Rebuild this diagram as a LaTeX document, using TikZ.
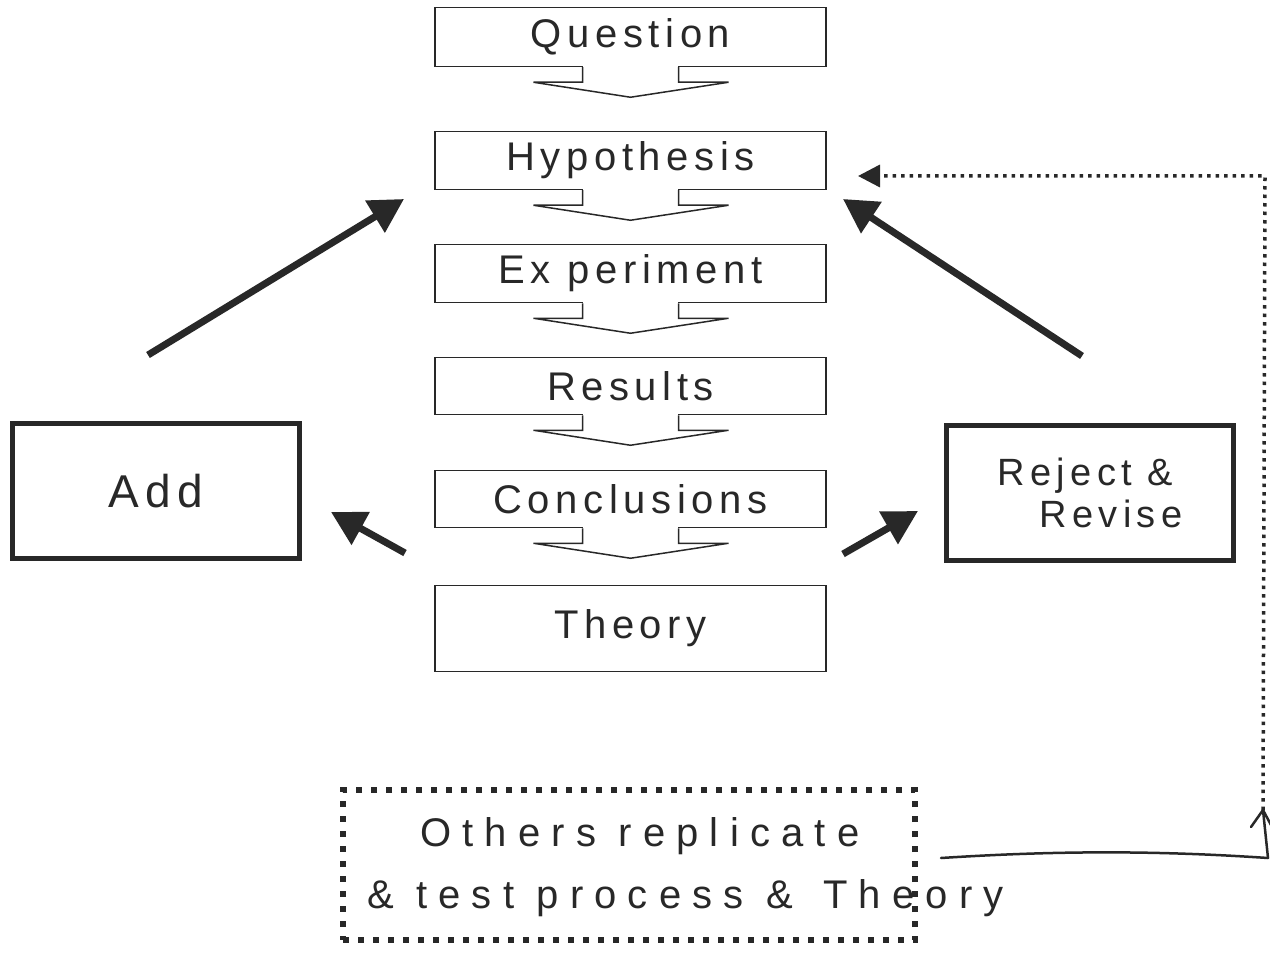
\documentclass[tikz,border=0pt]{standalone}
\usepackage{fontspec}
\newfontfamily\hand[LetterSpace=14]{Liberation Sans}
\newfontfamily\handwide[LetterSpace=28]{Liberation Sans}
\usetikzlibrary{arrows.meta,calc}
\definecolor{ink}{RGB}{40,40,40}
\begin{document}
\begin{tikzpicture}[x=1pt,y=-1pt,
  flow/.style={draw=ink, line width=1.5pt, minimum width=391pt, fill=white, inner sep=0pt,
    font=\hand\fontsize{40}{44}\selectfont, text=ink},
  side/.style={draw=ink, line width=5pt, minimum width=287pt, minimum height=135pt, inner sep=0pt,
    font=\hand\fontsize{38}{44}\selectfont, text=ink},
  bigarrow/.style={draw=ink, line width=7pt, -{Triangle[length=34pt,width=36pt]}},
  dotline/.style={draw=ink, line width=3.5pt, dash pattern=on 3.5pt off 5pt, -{Triangle[length=22pt,width=22pt]}},
  handline/.style={draw=ink, line width=2.5pt, line cap=round, line join=round},
  blockarrow/.style={draw=ink, line width=1.5pt, fill=white, line join=miter}
]
\useasboundingbox[fill=white] (0,0) rectangle (1270,955);

% central flow boxes
\node[flow, minimum height=59pt] (q) at (630.5,37) {Question};
\node[flow, minimum height=58pt] (h) at (630.5,160.5) {Hypothesis};
\node[flow, minimum height=58pt] (e) at (630.5,273.5) {Ex periment};
\node[flow, minimum height=57pt] (r) at (630.5,386) {Results};
\node[flow, minimum height=57pt] (c) at (630.5,499) {Conclusions};
\node[flow, minimum height=86pt] (t) at (630.5,628.5) {Theory};

% block arrows under boxes
\foreach \b in {q,h,e,r,c}{
  \fill[white] ($(\b.south)+(-47.5,-1.2)$) rectangle ($(\b.south)+(47.5,1)$);
  \filldraw[blockarrow] ($(\b.south)+(-48,0)$) -- ++(0,15) -- ++(-49,0) -- ++(97,15)
     -- ++(98,-15) -- ++(-50,0) -- ++(0,-15);
}

% side boxes
\node[side, font=\hand\fontsize{46}{50}\selectfont] (add) at (155.5,491) {Add\hspace{25pt}};
\node[side, align=left] (rej) at (1090,492.5) {Reject \&\\[-2pt]\hspace{42pt}Revise};

% thick arrows
\coordinate (a1) at (148,355);
\coordinate (a2) at (404,199);
\coordinate (b1) at (1082,356);
\coordinate (b2) at (843,199);
\coordinate (c1) at (405,553);
\coordinate (c2) at (331,512);
\coordinate (d1) at (843,554);
\coordinate (d2) at (918,511);
\draw[bigarrow] (a1) -- (a2);
\draw[bigarrow] (b1) -- (b2);
\draw[bigarrow] (c1) -- (c2);
\draw[bigarrow] (d1) -- (d2);

% others box
\node[draw=ink, line width=6pt, dash pattern=on 6pt off 9pt, minimum width=572pt, minimum height=150pt, inner sep=0pt] (oth) at (629,865) {};
\node[anchor=north west, align=left, inner sep=0pt, text=ink,
  font=\handwide\fontsize{40}{62}\selectfont] (othtxt) at (367,817)
  {\hspace{53pt}Others replicate\\\& test process \& \hspace{8pt}Theory};

% hand-drawn return arrow and dotted feedback line
\coordinate (hs) at (941,858);
\coordinate (hc) at (1268,858);
\coordinate (rt) at (1263,810);
\coordinate (corner) at (1265,176);
\coordinate (ht) at (858,176);
\draw[handline] (hs) .. controls (1050,851) and (1150,850) .. (hc);
\draw[handline] (hc) -- (rt);
\draw[handline] ($(rt)+(-12,17)$) -- (rt) -- ($(rt)+(8,15)$);
\draw[dotline] (rt) -- (corner) -- (ht);
\end{tikzpicture}
\end{document}
